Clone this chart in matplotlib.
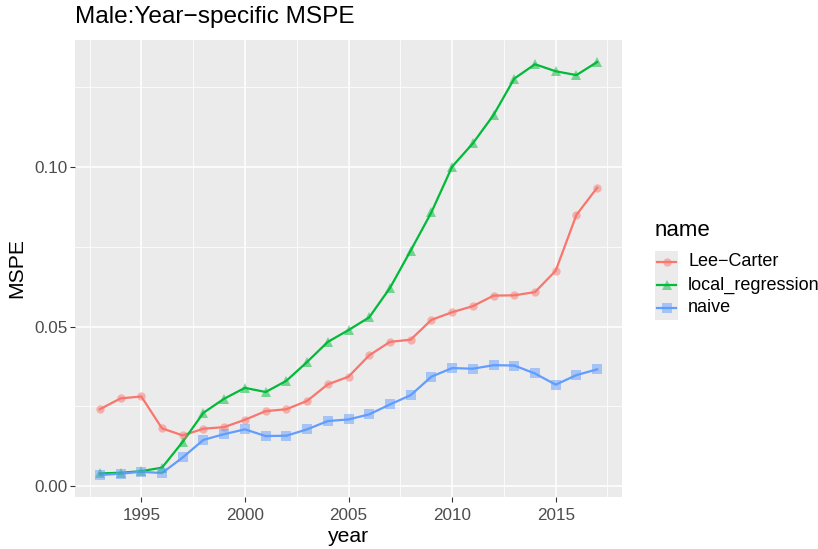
import matplotlib
matplotlib.use("Agg")
import matplotlib.pyplot as plt
from matplotlib.lines import Line2D
from matplotlib.patches import Rectangle
from matplotlib.ticker import FixedLocator

plt.rcParams['font.family'] = ['Liberation Sans', 'DejaVu Sans']

years = list(range(1993, 2018))
lee_carter = [0.0241, 0.0275, 0.0281, 0.0181, 0.0159, 0.0180, 0.0185, 0.0208, 0.0235, 0.0241,
              0.0267, 0.0319, 0.0343, 0.0410, 0.0452, 0.0459, 0.0521, 0.0545, 0.0564, 0.0597,
              0.0598, 0.0608, 0.0675, 0.0850, 0.0935]
local_regression = [0.0040, 0.0042, 0.0047, 0.0058, 0.0139, 0.0230, 0.0274, 0.0308, 0.0295, 0.0330,
                    0.0389, 0.0452, 0.0489, 0.0529, 0.0621, 0.0738, 0.0858, 0.1001, 0.1074, 0.1163,
                    0.1277, 0.1322, 0.1300, 0.1288, 0.1329]
naive = [0.0035, 0.0039, 0.0045, 0.0041, 0.0090, 0.0145, 0.0163, 0.0178, 0.0157, 0.0158,
         0.0178, 0.0204, 0.0209, 0.0225, 0.0256, 0.0285, 0.0343, 0.0370, 0.0368, 0.0379,
         0.0378, 0.0353, 0.0318, 0.0348, 0.0366]

series_names = ["Lee\u2212Carter", "local_regression", "naive"]
series_values = [lee_carter, local_regression, naive]
x_ticks = [1995, 2000, 2005, 2010, 2015]
y_ticks = [0.0, 0.05, 0.10]
y_tick_labels = ["0.00", "0.05", "0.10"]
colors = ["#F8766D", "#00BA38", "#619CFF"]
markers = ["o", "^", "s"]

W, H = 818, 549
fig = plt.figure(figsize=(W / 100, H / 100), dpi=100)
pl, pr, pt, pb = 75, 622, 40, 497
ax = fig.add_axes([pl / W, 1 - pb / H, (pr - pl) / W, (pb - pt) / H])
ax.set_facecolor("#EBEBEB")
for s in ax.spines.values():
    s.set_visible(False)

ax.set_xlim(1991.8, 2018.2)
ax.set_ylim(-0.0034, 0.1398)
ax.xaxis.set_major_locator(FixedLocator(x_ticks))
ax.xaxis.set_minor_locator(FixedLocator([1992.5, 1997.5, 2002.5, 2007.5, 2012.5, 2017.5]))
ax.yaxis.set_major_locator(FixedLocator(y_ticks))
ax.yaxis.set_minor_locator(FixedLocator([0.025, 0.075, 0.125]))
ax.set_yticklabels(y_tick_labels)
ax.grid(which="major", color="white", linewidth=1.1)
ax.grid(which="minor", color="white", linewidth=0.55)
ax.set_axisbelow(True)
ax.tick_params(which="major", length=3.5, color="#333333", width=0.8,
               labelsize=12.3, labelcolor="#4D4D4D", pad=2)
ax.tick_params(axis="x", which="major", pad=4.5)
ax.tick_params(which="minor", length=0)

for name, vals, c, m in zip(series_names, series_values, colors, markers):
    ax.plot(years, vals, color=c, linewidth=1.6, zorder=3)
    ax.plot(years, vals, linestyle="none", marker=m, markersize=6.5 if m != "o" else 6,
            color=c, alpha=0.5, markeredgewidth=0, zorder=4)

ax.set_xlabel("year", fontsize=15.2, labelpad=3)
ax.set_ylabel("MSPE", fontsize=15.2, labelpad=6)
fig.text(pl / W, 1 - 17 / H, "Male:Year\u2212specific MSPE", fontsize=17.6,
         ha="left", va="center")

# legend (drawn manually in figure coordinates, ggplot style)
fig.text(655 / W, 1 - 230 / H, "name", fontsize=16, ha="left", va="center")
fig.patches.append(Rectangle((655 / W, 1 - 320 / H), 23 / W, 69 / H,
                             transform=fig.transFigure, facecolor="#EBEBEB",
                             edgecolor="none"))
for i, (name, c, m) in enumerate(zip(series_names, colors, markers)):
    yc = 1 - (262 + 23 * i) / H
    fig.lines.append(Line2D([657 / W, 676 / W], [yc, yc], transform=fig.transFigure,
                            color=c, linewidth=1.6))
    fig.lines.append(Line2D([666.5 / W], [yc], transform=fig.transFigure,
                            marker=m, markersize=6.5 if m != "o" else 6, color=c,
                            alpha=0.5, markeredgewidth=0, linestyle="none"))
    fig.text(688 / W, yc, name, fontsize=13, ha="left", va="center")

fig.savefig("out.png", dpi=100)
